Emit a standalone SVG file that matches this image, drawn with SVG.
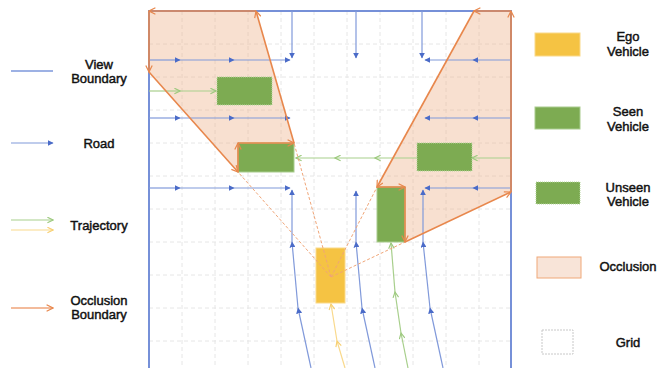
<svg xmlns="http://www.w3.org/2000/svg" width="658" height="368" viewBox="0 0 658 368">
<style>
.t{font-family:"Liberation Sans",Arial,sans-serif;font-size:13px;fill:#111;stroke:#111;stroke-width:0.45;text-anchor:middle}
.grid{stroke:#E6E6E6;stroke-width:1;stroke-dasharray:4 3;fill:none}
.road{stroke:#8099DA;stroke-width:1.2;fill:none;marker-end:url(#ra)}
.gtr{stroke:#A8CF8C;stroke-width:1.2;fill:none;marker-end:url(#ga)}
.ytr{stroke:#F9D98C;stroke-width:1.2;fill:none;marker-end:url(#ya)}
.ob{stroke:#E8874C;stroke-width:1.6;fill:none;marker-end:url(#oa)}
.ray{stroke:#F0A577;stroke-width:1;stroke-dasharray:3 2;fill:none}
.occ{fill:#EFB48F;fill-opacity:0.42;stroke:none}
.seen{fill:#7DAB52;stroke:#A9CC8E;stroke-width:1}
.unseen{fill:#7DAB52;stroke:#B5D69C;stroke-width:1;stroke-dasharray:1 1}
.ego{fill:#F5C343;stroke:#FAD98A;stroke-width:1}
</style>
<defs>
<marker id="ra" viewBox="0 0 10 10" refX="9" refY="5" markerWidth="6" markerHeight="6" markerUnits="userSpaceOnUse" orient="auto"><path d="M0,0 L10,5 L0,10 z" fill="#4A6BC8"/></marker>
<marker id="ga" viewBox="0 0 10 10" refX="9" refY="5" markerWidth="7" markerHeight="7" markerUnits="userSpaceOnUse" orient="auto"><path d="M1,1 L9,5 L1,9" fill="none" stroke="#9CC97D" stroke-width="1.6"/></marker>
<marker id="ya" viewBox="0 0 10 10" refX="9" refY="5" markerWidth="7" markerHeight="7" markerUnits="userSpaceOnUse" orient="auto"><path d="M1,1 L9,5 L1,9" fill="none" stroke="#F7CF70" stroke-width="1.6"/></marker>
<marker id="oa" viewBox="0 0 10 10" refX="9" refY="5" markerWidth="8" markerHeight="8" markerUnits="userSpaceOnUse" orient="auto"><path d="M1,1 L9,5 L1,9" fill="none" stroke="#E8874C" stroke-width="1.5"/></marker>
</defs>
<rect width="658" height="368" fill="#fff"/>

<g id="grid">
<path class="grid" d="M182,11V368M215,11V368M248,11V368M281,11V368M314,11V368M347,11V368M380,11V368M413,11V368M446,11V368M479,11V368"/>
<path class="grid" d="M149,44H511M149,77H511M149,110H511M149,143H511M149,176H511M149,209H511M149,242H511M149,275H511M149,308H511M149,341H511"/>
</g>

<g id="occlusion-left"><polygon class="occ" points="149,11 256,11 294,143 238,143 238,172 149,72"/></g>
<g id="occlusion-right"><polygon class="occ" points="474,11 511,11 511,192 405,242 405,187 377,187"/></g>

<g id="frame"><path d="M149,368V11H511V368" fill="none" stroke="#7690D8" stroke-width="2"/></g>

<g id="connectors">
<path class="road" d="M292,11V58"/>
<path class="road" d="M356,11V58"/>
<path class="road" d="M422,11V58"/>
<path class="road" d="M149,60H180"/><path class="road" d="M180,60H234"/><path class="road" d="M234,60H290"/>
<path class="road" d="M149,118H180"/><path class="road" d="M180,118H234"/><path class="road" d="M234,118H290"/>
<path class="road" d="M149,188H180"/><path class="road" d="M180,188H234"/><path class="road" d="M234,188H290"/>
<path class="road" d="M511,60H473"/><path class="road" d="M473,60H425"/>
<path class="road" d="M511,118H473"/><path class="road" d="M473,118H425"/>
<path class="road" d="M511,188H473"/><path class="road" d="M473,188H425"/>
<path class="road" d="M311,368L298,308"/><path class="road" d="M298,308L292,242"/><path class="road" d="M292,242V190"/>
<path class="road" d="M375,368L362,308"/><path class="road" d="M362,308L356,242"/><path class="road" d="M356,242V191"/>
<path class="road" d="M443,368L430,308"/><path class="road" d="M430,308L423,242"/><path class="road" d="M423,242V190"/>
<path class="gtr" d="M149,91H180"/><path class="gtr" d="M180,91H216"/>
<path class="gtr" d="M511,158H472"/><path class="gtr" d="M417,158H375"/><path class="gtr" d="M375,158H335"/><path class="gtr" d="M335,158H296"/>
<path class="gtr" d="M408,368L401,333"/><path class="gtr" d="M401,333L395,292"/><path class="gtr" d="M395,292L391,243"/>
<path class="ytr" d="M345,368L337,341"/><path class="ytr" d="M337,341L331,304"/>
</g>

<g id="vehicle-unseen-1"><rect class="unseen" x="217" y="77" width="55" height="28"/></g>
<g id="vehicle-unseen-2"><rect class="unseen" x="417" y="143" width="55" height="28"/></g>
<g id="vehicle-seen-1"><rect class="seen" x="238" y="143" width="56" height="29"/></g>
<g id="vehicle-seen-2"><rect class="seen" x="377" y="187" width="28" height="55"/></g>
<g id="vehicle-ego"><rect class="ego" x="316" y="248" width="29" height="55"/></g>

<g id="occlusion-rays">
<path class="ray" d="M331,277L238,172M331,277L294,143M331,277L377,187M331,277L405,242"/>
</g>

<g id="occlusion-boundary">
<path class="ob" d="M256,11H149"/><path class="ob" d="M149,11V72"/><path class="ob" d="M149,72L238,172"/><path class="ob" d="M238,172V143"/><path class="ob" d="M238,143H294"/><path class="ob" d="M294,143L256,11"/>
<path class="ob" d="M474,11L377,187"/><path class="ob" d="M377,187H405"/><path class="ob" d="M405,187V242"/><path class="ob" d="M405,242L511,192"/><path class="ob" d="M511,192V11"/><path class="ob" d="M511,11H474"/>
</g>

<g id="legend-view-boundary"><line x1="11" y1="71" x2="53" y2="71" stroke="#9DB1E4" stroke-width="2"/><text class="t" x="99" y="68.5">View</text><text class="t" x="99" y="83">Boundary</text></g>
<g id="legend-road"><line x1="11" y1="143" x2="53" y2="143" class="road"/><text class="t" x="99" y="148">Road</text></g>
<g id="legend-trajectory"><line x1="11" y1="220" x2="53" y2="220" class="gtr"/><line x1="11" y1="230" x2="53" y2="230" class="ytr"/><text class="t" x="99" y="230">Trajectory</text></g>
<g id="legend-occlusion-boundary"><line x1="11" y1="308" x2="53" y2="308" stroke="#EFA57A" stroke-width="1.6" marker-end="url(#oa)"/><text class="t" x="99" y="304.5">Occlusion</text><text class="t" x="99" y="319">Boundary</text></g>

<g id="legend-ego"><rect class="ego" x="535" y="33" width="45" height="23"/><text class="t" x="628" y="41">Ego</text><text class="t" x="628" y="56">Vehicle</text></g>
<g id="legend-seen"><rect class="seen" x="535" y="107" width="45" height="22"/><text class="t" x="628" y="116">Seen</text><text class="t" x="628" y="131">Vehicle</text></g>
<g id="legend-unseen"><rect class="unseen" x="536" y="182" width="44" height="22"/><text class="t" x="628" y="191.5">Unseen</text><text class="t" x="628" y="206">Vehicle</text></g>
<g id="legend-occlusion"><rect x="537" y="257" width="44" height="21" fill="#F8E4D8" stroke="#F0A878" stroke-width="1"/><text class="t" x="628" y="270.5">Occlusion</text></g>
<g id="legend-grid"><rect x="542" y="330" width="31" height="24" fill="#fff" stroke="#C8C8C8" stroke-width="1" stroke-dasharray="2 1"/><text class="t" x="628" y="346.5">Grid</text></g>
</svg>
